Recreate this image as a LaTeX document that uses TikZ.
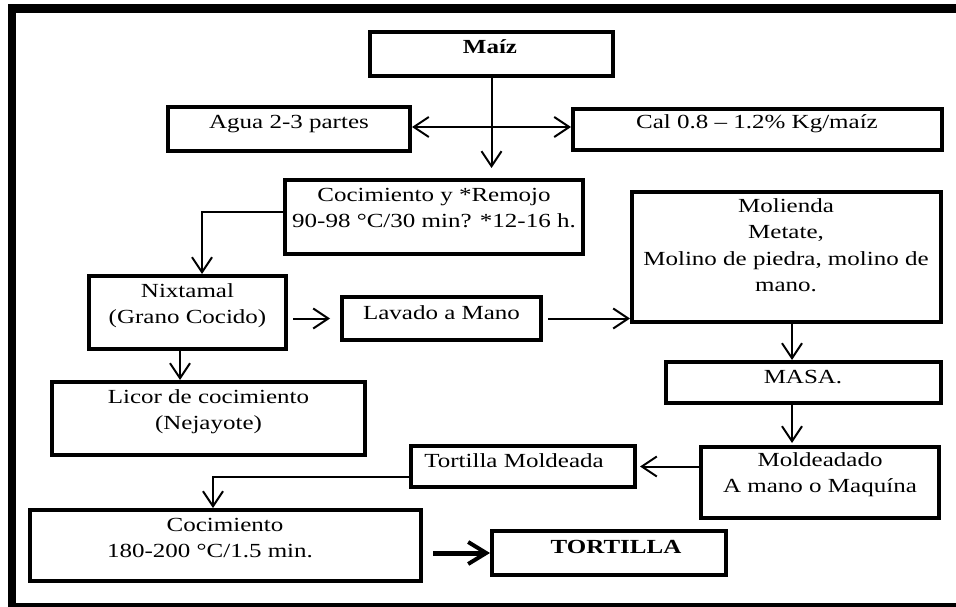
\documentclass[tikz,border=0pt]{standalone}
\usepackage{fontspec}
\setmainfont{Liberation Serif}[FakeStretch=1.25]
\usetikzlibrary{arrows.meta}
\begin{document}
\begin{tikzpicture}[x=1pt,y=-1pt,
  box/.style={draw, line width=4pt, inner sep=0pt},
  txt/.style={anchor=north, inner sep=0pt, align=center,
    font=\fontsize{20}{26.5}\selectfont, execute at begin node={\rule{0pt}{15pt}}},
  boldtxt/.style={txt, font=\fontsize{20}{26.5}\selectfont\bfseries},
  tip/.style={Straight Barb[length=15pt,width=20pt]},
  conn/.style={line width=2pt, -{Straight Barb[length=15pt,width=20pt]}},
  thickconn/.style={line width=5pt, -{Straight Barb[length=18pt,width=22pt,line width=4pt]}},
]
\useasboundingbox (0,0) rectangle (956,607);
\draw[line width=8.5pt] (12,8.5) rectangle (964,607);

% boxes
\node[box, minimum width=243pt, minimum height=44pt] (maiz) at (491.5,54) {};
\node[box, minimum width=242pt, minimum height=44pt] (agua) at (289,129) {};
\node[box, minimum width=369pt, minimum height=41pt] (cal) at (757.5,129.5) {};
\node[box, minimum width=298pt, minimum height=74pt] (coc1) at (434,217) {};
\node[box, minimum width=197pt, minimum height=73pt] (nixt) at (187.5,312.5) {};
\node[box, minimum width=199pt, minimum height=43pt] (lavado) at (441.5,318.5) {};
\node[box, minimum width=309pt, minimum height=130pt] (molienda) at (786.5,257) {};
\node[box, minimum width=275pt, minimum height=41pt] (masa) at (803.5,382.5) {};
\node[box, minimum width=313pt, minimum height=73pt] (licor) at (208.5,418.5) {};
\node[box, minimum width=224pt, minimum height=41pt] (tortm) at (523,466.5) {};
\node[box, minimum width=238pt, minimum height=71pt] (molde) at (820,482.5) {};
\node[box, minimum width=391pt, minimum height=71pt] (coc2) at (225.5,545.5) {};
\node[box, minimum width=234pt, minimum height=44pt] (tortilla) at (609,553) {};

% texts
\node[boldtxt] (tmaiz) at (490,38) {Maíz};
\node[txt] (tagua) at (289,113) {Agua 2-3 partes};
\node[txt] (tcal) at (757,113) {Cal 0.8 – 1.2\% Kg/maíz};
\node[txt] (tcoc1) at (434,188) {Cocimiento y *Remojo\\90-98 °C/30 min? *12-16 h.};
\node[txt] (tnixt) at (187.5,283) {Nixtamal\\(Grano Cocido)};
\node[txt] (tlavado) at (441.5,304) {Lavado a Mano};
\node[txt] (tmolienda) at (786,198) {Molienda\\Metate,\\Molino de piedra, molino de\\mano.};
\node[txt] (tmasa) at (803,368) {MASA.};
\node[txt] (tlicor) at (208.5,389) {Licor de cocimiento\\(Nejayote)};
\node[txt] (ttortm) at (514,452) {Tortilla Moldeada};
\node[txt] (tmolde) at (820,452) {Moldeadado\\A mano o Maquína};
\node[txt] (tcoc2) at (225,518) {Cocimiento\\180-200 °C/1.5 min.\hspace*{30pt}};
\node[boldtxt] (ttortilla) at (616,538) {TORTILLA};

% connectors
\draw[conn, shorten >=10pt] (maiz.south) -- (maiz.south |- coc1.north);
\draw[line width=2pt, {Straight Barb[length=15pt,width=20pt]}-{Straight Barb[length=15pt,width=20pt]}]
  ([yshift=2pt]agua.east) -- ([yshift=2pt]agua.east -| cal.west);
\draw[conn] ([yshift=5pt]coc1.west) -| ([xshift=14.5pt]nixt.north);
\draw[conn, shorten <=5pt, shorten >=10pt] (nixt.east |- lavado.west) -- (lavado.west);
\draw[conn, shorten <=5pt] (lavado.east) -- (lavado.east -| molienda.west);
\draw[conn] ([xshift=5.5pt]molienda.south) -- ([xshift=5.5pt]molienda.south |- masa.north);
\draw[conn, shorten >=2pt] ([xshift=-11.5pt]masa.south) -- ([xshift=-11.5pt]masa.south |- molde.north);
\draw[conn, shorten >=3pt] (molde.west |- tortm.east) -- (tortm.east);
\draw[conn] ([yshift=-10.5pt]tortm.west) -| ([xshift=-12.5pt]coc2.north);
\draw[thickconn, shorten <=10pt] (coc2.east |- tortilla.west) -- (tortilla.west);
\draw[conn] ([xshift=-7.5pt]nixt.south) -- ([xshift=-7.5pt]nixt.south |- licor.north);
\end{tikzpicture}
\end{document}
